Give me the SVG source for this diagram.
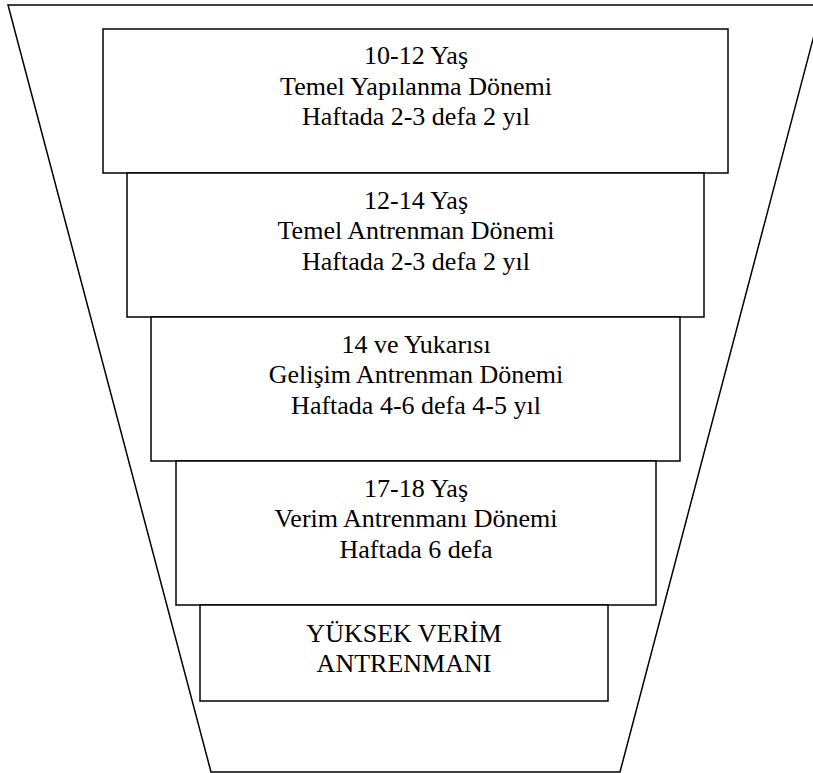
<svg xmlns="http://www.w3.org/2000/svg" width="813" height="773" viewBox="0 0 813 773">
<style>
.frame{fill:none;stroke:#000;stroke-width:1.5}
.box{fill:#fff;stroke:#000;stroke-width:1.5}
text{font-family:'Liberation Serif','Times New Roman',serif;font-size:26px;fill:#000;text-anchor:middle}
</style>
<rect width="813" height="773" fill="#fff"/>
<g id="funnel">
<polygon class="frame" points="8,5 822,5 620,772 211,772"/>
</g>
<g id="connectors"></g>
<g id="n1">
<rect class="box" x="103" y="29" width="625" height="144"/>
<text x="416" y="64">10-12 Yaş</text>
<text x="416" y="94.5">Temel Yapılanma Dönemi</text>
<text x="416" y="125">Haftada 2-3 defa 2 yıl</text>
</g>
<g id="n2">
<rect class="box" x="127" y="173" width="577" height="144"/>
<text x="416" y="208.5">12-14 Yaş</text>
<text x="416" y="239">Temel Antrenman Dönemi</text>
<text x="416" y="269.5">Haftada 2-3 defa 2 yıl</text>
</g>
<g id="n3">
<rect class="box" x="151" y="317" width="529" height="144"/>
<text x="416" y="352.5">14 ve Yukarısı</text>
<text x="416" y="383">Gelişim Antrenman Dönemi</text>
<text x="416" y="413.5">Haftada 4-6 defa 4-5 yıl</text>
</g>
<g id="n4">
<rect class="box" x="176" y="461" width="480" height="144"/>
<text x="416" y="496.5">17-18 Yaş</text>
<text x="416" y="527">Verim Antrenmanı Dönemi</text>
<text x="416" y="557.5">Haftada 6 defa</text>
</g>
<g id="n5">
<rect class="box" x="200" y="605" width="408" height="96"/>
<text x="404" y="641.5">YÜKSEK VERİM</text>
<text x="404" y="672">ANTRENMANI</text>
</g>
</svg>
